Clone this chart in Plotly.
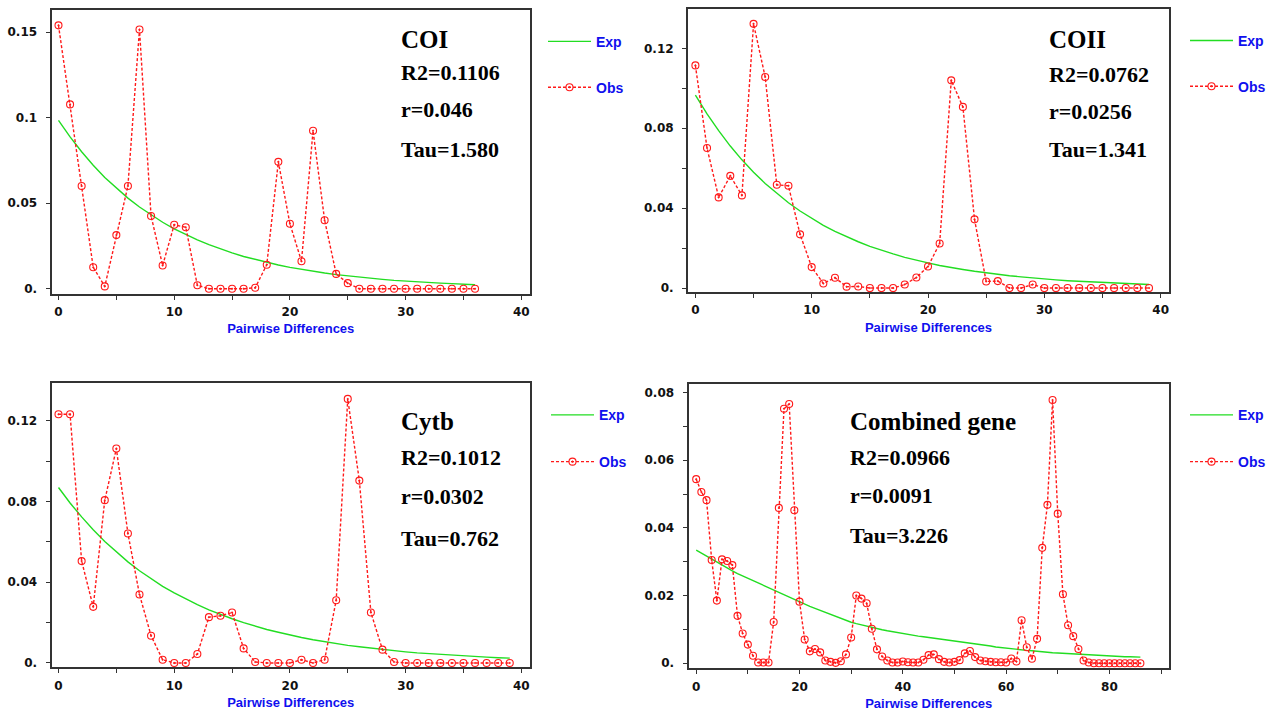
import plotly.graph_objects as go

W, H = 1272, 713

# ---------------- data ----------------
coi_x = list(range(0, 37))
coi_obs = [0.154, 0.1078, 0.0601, 0.0126, 0.0014, 0.0314, 0.0601, 0.1516, 0.0426, 0.0136,
           0.0374, 0.036, 0.0021, 0.0, 0.0, 0.0, 0.0, 0.0006, 0.0141, 0.0742,
           0.038, 0.0161, 0.0924, 0.0401, 0.0087, 0.0033, 0.0, 0.0, 0.0, 0.0,
           0.0, 0.0, 0.0, 0.0, 0.0, 0.0, 0.0]
coi_exp = [0.0984, 0.0888, 0.0801, 0.0722, 0.0651, 0.0588, 0.053, 0.0478, 0.0431, 0.0389,
           0.0351, 0.0317, 0.0286, 0.0258, 0.0232, 0.021, 0.0189, 0.0171, 0.0154, 0.0139,
           0.0125, 0.0113, 0.0102, 0.0092, 0.0083, 0.0075, 0.0067, 0.0061, 0.0055, 0.0049,
           0.0044, 0.004, 0.0036, 0.0033, 0.003, 0.0027, 0.0024]

coii_x = list(range(0, 40))
coii_obs = [0.1115, 0.0701, 0.0454, 0.0562, 0.0464, 0.1323, 0.1057, 0.0517, 0.0512, 0.0269,
            0.0105, 0.0023, 0.0052, 0.0007, 0.0008, 0.0, 0.0, 0.0, 0.0018, 0.0053,
            0.0108, 0.0223, 0.104, 0.0907, 0.0344, 0.0033, 0.0035, 0.0, 0.0, 0.0018,
            0.0, 0.0, 0.0, 0.0, 0.0, 0.0, 0.0, 0.0, 0.0, 0.0]
coii_exp = [0.0966, 0.0872, 0.0788, 0.0711, 0.0642, 0.058, 0.0524, 0.0473, 0.0427, 0.0386,
            0.0348, 0.0314, 0.0284, 0.0256, 0.0232, 0.0209, 0.0189, 0.0171, 0.0154, 0.0139,
            0.0126, 0.0113, 0.0102, 0.0093, 0.0084, 0.0076, 0.0068, 0.0062, 0.0056, 0.005,
            0.0045, 0.0041, 0.0037, 0.0034, 0.003, 0.0027, 0.0025, 0.0022, 0.002, 0.0018]

cytb_x = list(range(0, 40))
cytb_obs = [0.1233, 0.1233, 0.0505, 0.0278, 0.0807, 0.1063, 0.0642, 0.0339, 0.0135, 0.0016,
            0.0, 0.0, 0.0044, 0.0227, 0.0234, 0.025, 0.0072, 0.0005, 0.0, 0.0,
            0.0, 0.0016, 0.0, 0.0016, 0.0311, 0.1309, 0.0904, 0.025, 0.0066, 0.0005,
            0.0, 0.0, 0.0, 0.0, 0.0, 0.0, 0.0, 0.0, 0.0, 0.0]
cytb_exp = [0.087, 0.0793, 0.0724, 0.066, 0.0602, 0.0549, 0.0501, 0.0457, 0.0417, 0.038,
            0.0347, 0.0316, 0.0289, 0.0263, 0.024, 0.0219, 0.02, 0.0182, 0.0166, 0.0152,
            0.0138, 0.0126, 0.0115, 0.0105, 0.0096, 0.0087, 0.008, 0.0073, 0.0066, 0.006,
            0.0055, 0.005, 0.0046, 0.0042, 0.0038, 0.0035, 0.0032, 0.0029, 0.0026, 0.0024]

comb_x = list(range(0, 87))
comb_obs = [0.0544, 0.0506, 0.0482, 0.0305, 0.0185, 0.0307, 0.0302, 0.029, 0.014, 0.0088,
            0.0055, 0.0022, 0.0002, 0.0002, 0.0002, 0.0122, 0.0459, 0.0752, 0.0766, 0.0452,
            0.0182, 0.007, 0.0035, 0.0042, 0.0032, 0.0008, 0.0004, 0.0001, 0.0006, 0.0026,
            0.0076, 0.02, 0.0191, 0.0177, 0.0102, 0.0041, 0.002, 0.0008, 0.0002, 0.0002,
            0.0005, 0.0003, 0.0002, 0.0002, 0.001, 0.0024, 0.0026, 0.0012, 0.0004, 0.0002,
            0.0004, 0.0009, 0.0029, 0.0036, 0.0018, 0.0008, 0.0006, 0.0004, 0.0003, 0.0003,
            0.0002, 0.0014, 0.0005, 0.0127, 0.0047, 0.0013, 0.0072, 0.0341, 0.0468, 0.0778,
            0.0442, 0.0204, 0.0112, 0.008, 0.0042, 0.0008, 0.0002, 0.0, 0.0, 0.0,
            0.0, 0.0, 0.0, 0.0, 0.0, 0.0, 0.0]
comb_exp = [0.0334, 0.0325, 0.0316, 0.0307, 0.0298, 0.0289, 0.0281, 0.0273, 0.0265, 0.0258,
            0.0251, 0.0243, 0.0236, 0.0229, 0.0222, 0.0215, 0.0208, 0.0201, 0.0194, 0.0187,
            0.0180, 0.0174, 0.0168, 0.0162, 0.0156, 0.0150, 0.0144, 0.0138, 0.0132, 0.0126,
            0.0121, 0.0117, 0.0113, 0.0109, 0.0105, 0.0102, 0.0099, 0.0096, 0.0093, 0.0090,
            0.0088, 0.0085, 0.0083, 0.0080, 0.0078, 0.0076, 0.0074, 0.0071, 0.0069, 0.0067,
            0.0065, 0.0063, 0.0061, 0.0059, 0.0057, 0.0055, 0.0053, 0.0051, 0.0048, 0.0046,
            0.0044, 0.0043, 0.0041, 0.0040, 0.0038, 0.0037, 0.0035, 0.0034, 0.0032, 0.0031,
            0.0030, 0.0029, 0.0028, 0.0027, 0.0026, 0.0025, 0.0024, 0.0023, 0.0022, 0.0022,
            0.0021, 0.0020, 0.0020, 0.0019, 0.0019, 0.0018, 0.0018]

# tick values / labels
x40_vals = [0, 5, 10, 15, 20, 25, 30, 35, 40]
x40_text = ["0", "", "10", "", "20", "", "30", "", "40"]
x90_vals = [0, 10, 20, 30, 40, 50, 60, 70, 80, 90]
x90_text = ["0", "", "20", "", "40", "", "60", "", "80", ""]
y015_vals = [0, 0.05, 0.1, 0.15]
y015_text = ["0.", "0.05", "0.1", "0.15"]
y012_vals = [0, 0.02, 0.04, 0.06, 0.08, 0.10, 0.12]
y012_text = ["0.", "", "0.04", "", "0.08", "", "0.12"]
y008_vals = [0, 0.01, 0.02, 0.03, 0.04, 0.05, 0.06, 0.07, 0.08]
y008_text = ["0.", "", "0.02", "", "0.04", "", "0.06", "", "0.08"]

titles = ["COI", "COII", "Cytb", "Combined gene"]
r2_text = ["R2=0.1106", "R2=0.0762", "R2=0.1012", "R2=0.0966"]
r_text = ["r=0.046", "r=0.0256", "r=0.0302", "r=0.0091"]
tau_text = ["Tau=1.580", "Tau=1.341", "Tau=0.762", "Tau=3.226"]

# ---------------- layout helpers ----------------
def px(x):
    return x / W

def py(y):
    return 1 - y / H

RED = "#ff1a1a"
GREEN = "#22dd22"
BLUE = "#1010ee"
FRAME = "#333333"

panels = [
    dict(x=coi_x, obs=coi_obs, exp=coi_exp, dom=(51.5, 530, 10, 295),
         xr=(-0.605, 40.75), yr=(-0.0029, 0.163), xv=x40_vals, xt=x40_text,
         yv=y015_vals, yt=y015_text, txt=(399, [40, 72.5, 110, 150.5]),
         leg=(543, 42, 88)),
    dict(x=coii_x, obs=coii_obs, exp=coii_exp, dom=(688, 1169, 9.3, 293.3),
         xr=(-0.636, 40.72), yr=(-0.002, 0.1396), xv=x40_vals, xt=x40_text,
         yv=y012_vals, yt=y012_text, txt=(1047, [40, 74.5, 111.5, 150]),
         leg=(1185, 41, 87)),
    dict(x=cytb_x, obs=cytb_obs, exp=cytb_exp, dom=(51.5, 530, 385, 670),
         xr=(-0.605, 40.75), yr=(-0.0021, 0.1386), xv=x40_vals, xt=x40_text,
         yv=y012_vals, yt=y012_text, txt=(399, [423, 459, 499, 540.5]),
         leg=(546, 417, 464)),
    dict(x=comb_x, obs=comb_obs, exp=comb_exp, dom=(688.5, 1169, 385.7, 671),
         xr=(-1.49, 91.54), yr=(-0.00147, 0.0825), xv=x90_vals, xt=x90_text,
         yv=y008_vals, yt=y008_text, txt=(848, [423.5, 459, 497.5, 538]),
         leg=(1185, 417, 464)),
]

fig = go.Figure()
annotations = []
legends = {}
tick_font = dict(family="DejaVu Sans, Liberation Sans, sans-serif", size=12, color="#111111", weight="bold")
leg_font = dict(family="Liberation Sans Narrow, Liberation Sans, sans-serif", size=14, color=BLUE, weight="bold")

for i, p in enumerate(panels):
    n = i + 1
    xa = "x" if n == 1 else f"x{n}"
    ya = "y" if n == 1 else f"y{n}"
    lg_exp = f"legend{2 * i + 1}" if i > 0 else "legend"
    lg_obs = f"legend{2 * i + 2}"
    fig.add_trace(go.Scatter(
        x=p["x"], y=p["exp"], mode="lines", name="Exp",
        line=dict(color=GREEN, width=1.4),
        xaxis=xa, yaxis=ya, legend=lg_exp))
    fig.add_trace(go.Scatter(
        x=p["x"], y=p["obs"], mode="lines+markers", name="Obs",
        line=dict(color=RED, width=1.4, dash="3px,2px"),
        marker=dict(symbol="circle-open-dot", size=7, color=RED, line=dict(width=1.1, color=RED)),
        xaxis=xa, yaxis=ya, legend=lg_obs))

    l, r, t, b = p["dom"]
    axis_common = dict(showline=True, linecolor=FRAME, linewidth=2, mirror=True,
                       ticks="outside", ticklen=4, tickwidth=1.2, tickcolor=FRAME,
                       showgrid=False, zeroline=False, tickfont=tick_font,
                       tickmode="array")
    xkey = "xaxis" if n == 1 else f"xaxis{n}"
    ykey = "yaxis" if n == 1 else f"yaxis{n}"
    fig.update_layout(**{
        xkey: dict(domain=[px(l), px(r)], anchor=ya, range=list(p["xr"]),
                   tickvals=p["xv"], ticktext=p["xt"], ticklabelstandoff=2,
                   title=dict(text="Pairwise Differences", standoff=6,
                              font=dict(family="Liberation Sans, Arial, sans-serif", size=13,
                                        color=BLUE, weight="bold")),
                   **axis_common),
        ykey: dict(domain=[py(b), py(t)], anchor=xa, range=list(p["yr"]),
                   tickvals=p["yv"], ticktext=p["yt"], ticklabelstandoff=6,
                   **axis_common),
    })

    tx, tys = p["txt"]
    labels = [titles[i], r2_text[i], r_text[i], tau_text[i]]
    sizes = [25, 22, 22, 22]
    for lab, yy, sz in zip(labels, tys, sizes):
        annotations.append(dict(
            text=lab, x=px(tx), y=py(yy), xref="paper", yref="paper",
            xanchor="left", yanchor="middle", showarrow=False,
            font=dict(family="Liberation Serif, Times New Roman, serif", size=sz,
                      color="black", weight="bold")))

    lx, ey, oy = p["leg"]
    for key, yy in ((lg_exp, ey), (lg_obs, oy)):
        legends[key] = dict(x=px(lx), y=py(yy), xanchor="left", yanchor="middle",
                            xref="paper", yref="paper", bgcolor="rgba(0,0,0,0)",
                            borderwidth=0, font=leg_font, itemwidth=43)

fig.update_layout(
    width=W, height=H,
    margin=dict(l=0, r=0, t=0, b=0),
    paper_bgcolor="white", plot_bgcolor="white",
    showlegend=True,
    annotations=annotations,
    **legends,
)

fig.write_html("out.html", config={"displayModeBar": False},
               post_script="document.body.style.margin='0px';")
